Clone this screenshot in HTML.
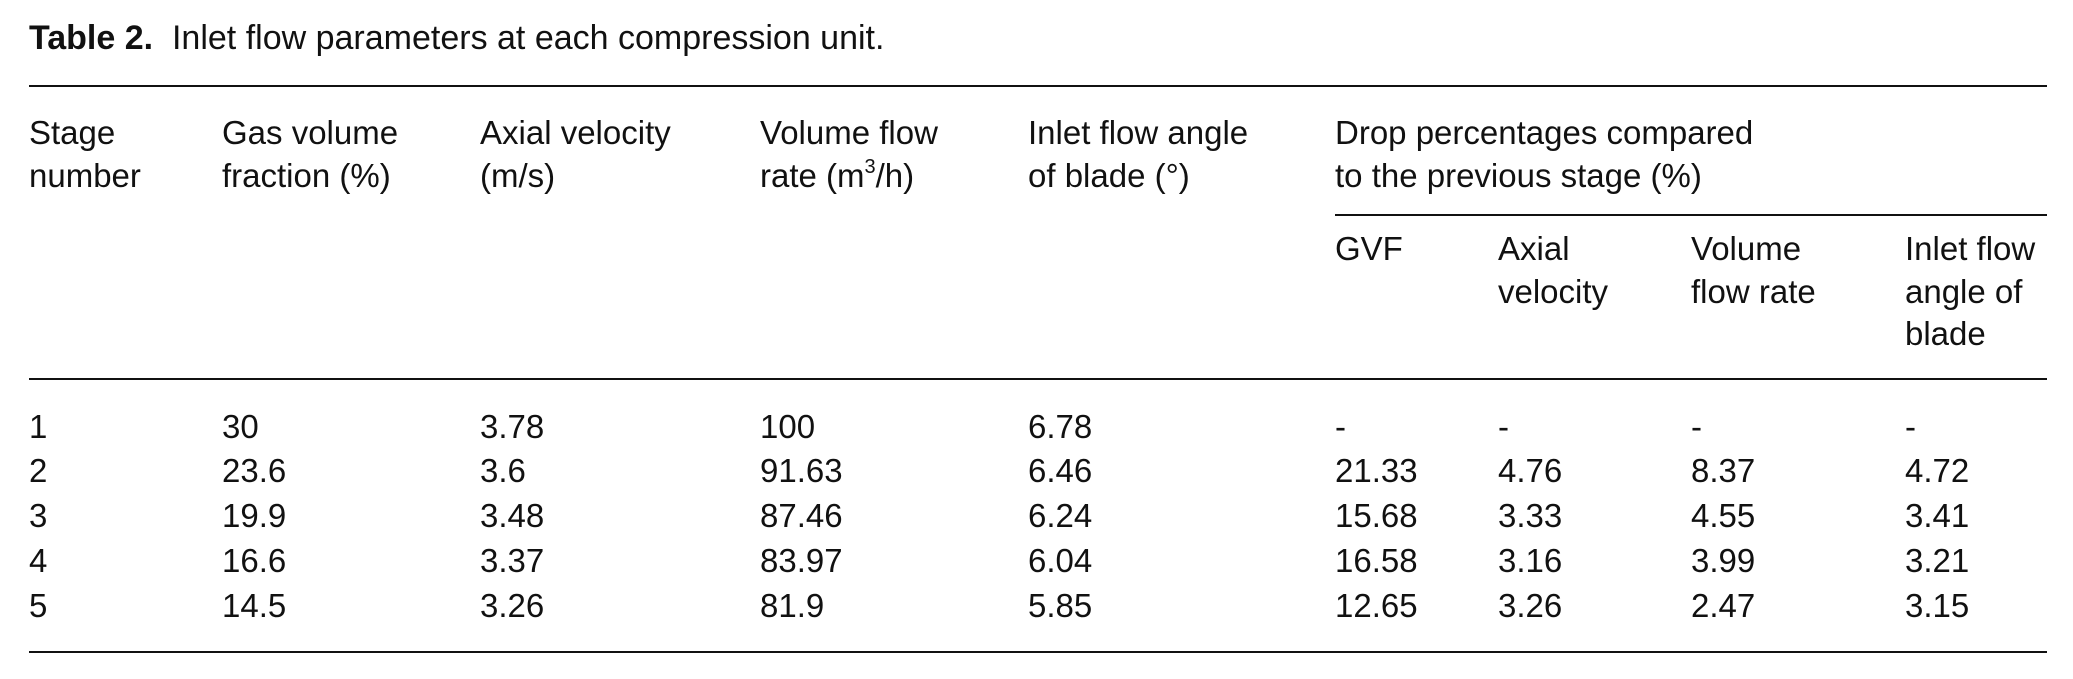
<!DOCTYPE html>
<html><head><meta charset="utf-8">
<style>
html,body{margin:0;padding:0;background:#fff;}
body{width:2073px;height:679px;position:relative;overflow:hidden;font-family:"Liberation Sans",sans-serif;color:#111;font-size:33px;}
.t{position:absolute;white-space:nowrap;line-height:1;}
.r{position:absolute;height:2px;background:#111;}
sup{font-size:20px;position:relative;top:-2px;vertical-align:top;}
</style></head><body>
<div class="t" style="left:29px;top:21px;font-size:34px"><b>Table 2.</b>&nbsp;&nbsp;Inlet flow parameters at each compression unit.</div>
<div class="r" style="left:29px;width:2018px;top:85px"></div>

<div class="t" style="left:29px;top:116px">Stage</div>
<div class="t" style="left:29px;top:159px">number</div>
<div class="t" style="left:222px;top:116px">Gas volume</div>
<div class="t" style="left:222px;top:159px">fraction (%)</div>
<div class="t" style="left:480px;top:116px">Axial velocity</div>
<div class="t" style="left:480px;top:159px">(m/s)</div>
<div class="t" style="left:760px;top:116px">Volume flow</div>
<div class="t" style="left:760px;top:159px">rate (m<sup>3</sup>/h)</div>
<div class="t" style="left:1028px;top:116px">Inlet flow angle</div>
<div class="t" style="left:1028px;top:159px">of blade (°)</div>
<div class="t" style="left:1335px;top:116px">Drop percentages compared</div>
<div class="t" style="left:1335px;top:159px">to the previous stage (%)</div>
<div class="r" style="left:1335px;width:712px;top:214px"></div>

<div class="t" style="left:1335px;top:232px">GVF</div>
<div class="t" style="left:1498px;top:232px">Axial</div>
<div class="t" style="left:1498px;top:275px">velocity</div>
<div class="t" style="left:1691px;top:232px">Volume</div>
<div class="t" style="left:1691px;top:275px">flow rate</div>
<div class="t" style="left:1905px;top:232px">Inlet flow</div>
<div class="t" style="left:1905px;top:275px">angle of</div>
<div class="t" style="left:1905px;top:317px">blade</div>
<div class="r" style="left:29px;width:2018px;top:378px"></div>

<div class="t" style="left:29px;top:410px">1</div><div class="t" style="left:222px;top:410px">30</div><div class="t" style="left:480px;top:410px">3.78</div><div class="t" style="left:760px;top:410px">100</div><div class="t" style="left:1028px;top:410px">6.78</div><div class="t" style="left:1335px;top:410px">-</div><div class="t" style="left:1498px;top:410px">-</div><div class="t" style="left:1691px;top:410px">-</div><div class="t" style="left:1905px;top:410px">-</div>
<div class="t" style="left:29px;top:454px">2</div><div class="t" style="left:222px;top:454px">23.6</div><div class="t" style="left:480px;top:454px">3.6</div><div class="t" style="left:760px;top:454px">91.63</div><div class="t" style="left:1028px;top:454px">6.46</div><div class="t" style="left:1335px;top:454px">21.33</div><div class="t" style="left:1498px;top:454px">4.76</div><div class="t" style="left:1691px;top:454px">8.37</div><div class="t" style="left:1905px;top:454px">4.72</div>
<div class="t" style="left:29px;top:499px">3</div><div class="t" style="left:222px;top:499px">19.9</div><div class="t" style="left:480px;top:499px">3.48</div><div class="t" style="left:760px;top:499px">87.46</div><div class="t" style="left:1028px;top:499px">6.24</div><div class="t" style="left:1335px;top:499px">15.68</div><div class="t" style="left:1498px;top:499px">3.33</div><div class="t" style="left:1691px;top:499px">4.55</div><div class="t" style="left:1905px;top:499px">3.41</div>
<div class="t" style="left:29px;top:544px">4</div><div class="t" style="left:222px;top:544px">16.6</div><div class="t" style="left:480px;top:544px">3.37</div><div class="t" style="left:760px;top:544px">83.97</div><div class="t" style="left:1028px;top:544px">6.04</div><div class="t" style="left:1335px;top:544px">16.58</div><div class="t" style="left:1498px;top:544px">3.16</div><div class="t" style="left:1691px;top:544px">3.99</div><div class="t" style="left:1905px;top:544px">3.21</div>
<div class="t" style="left:29px;top:589px">5</div><div class="t" style="left:222px;top:589px">14.5</div><div class="t" style="left:480px;top:589px">3.26</div><div class="t" style="left:760px;top:589px">81.9</div><div class="t" style="left:1028px;top:589px">5.85</div><div class="t" style="left:1335px;top:589px">12.65</div><div class="t" style="left:1498px;top:589px">3.26</div><div class="t" style="left:1691px;top:589px">2.47</div><div class="t" style="left:1905px;top:589px">3.15</div>
<div class="r" style="left:29px;width:2018px;top:651px"></div>
</body></html>
